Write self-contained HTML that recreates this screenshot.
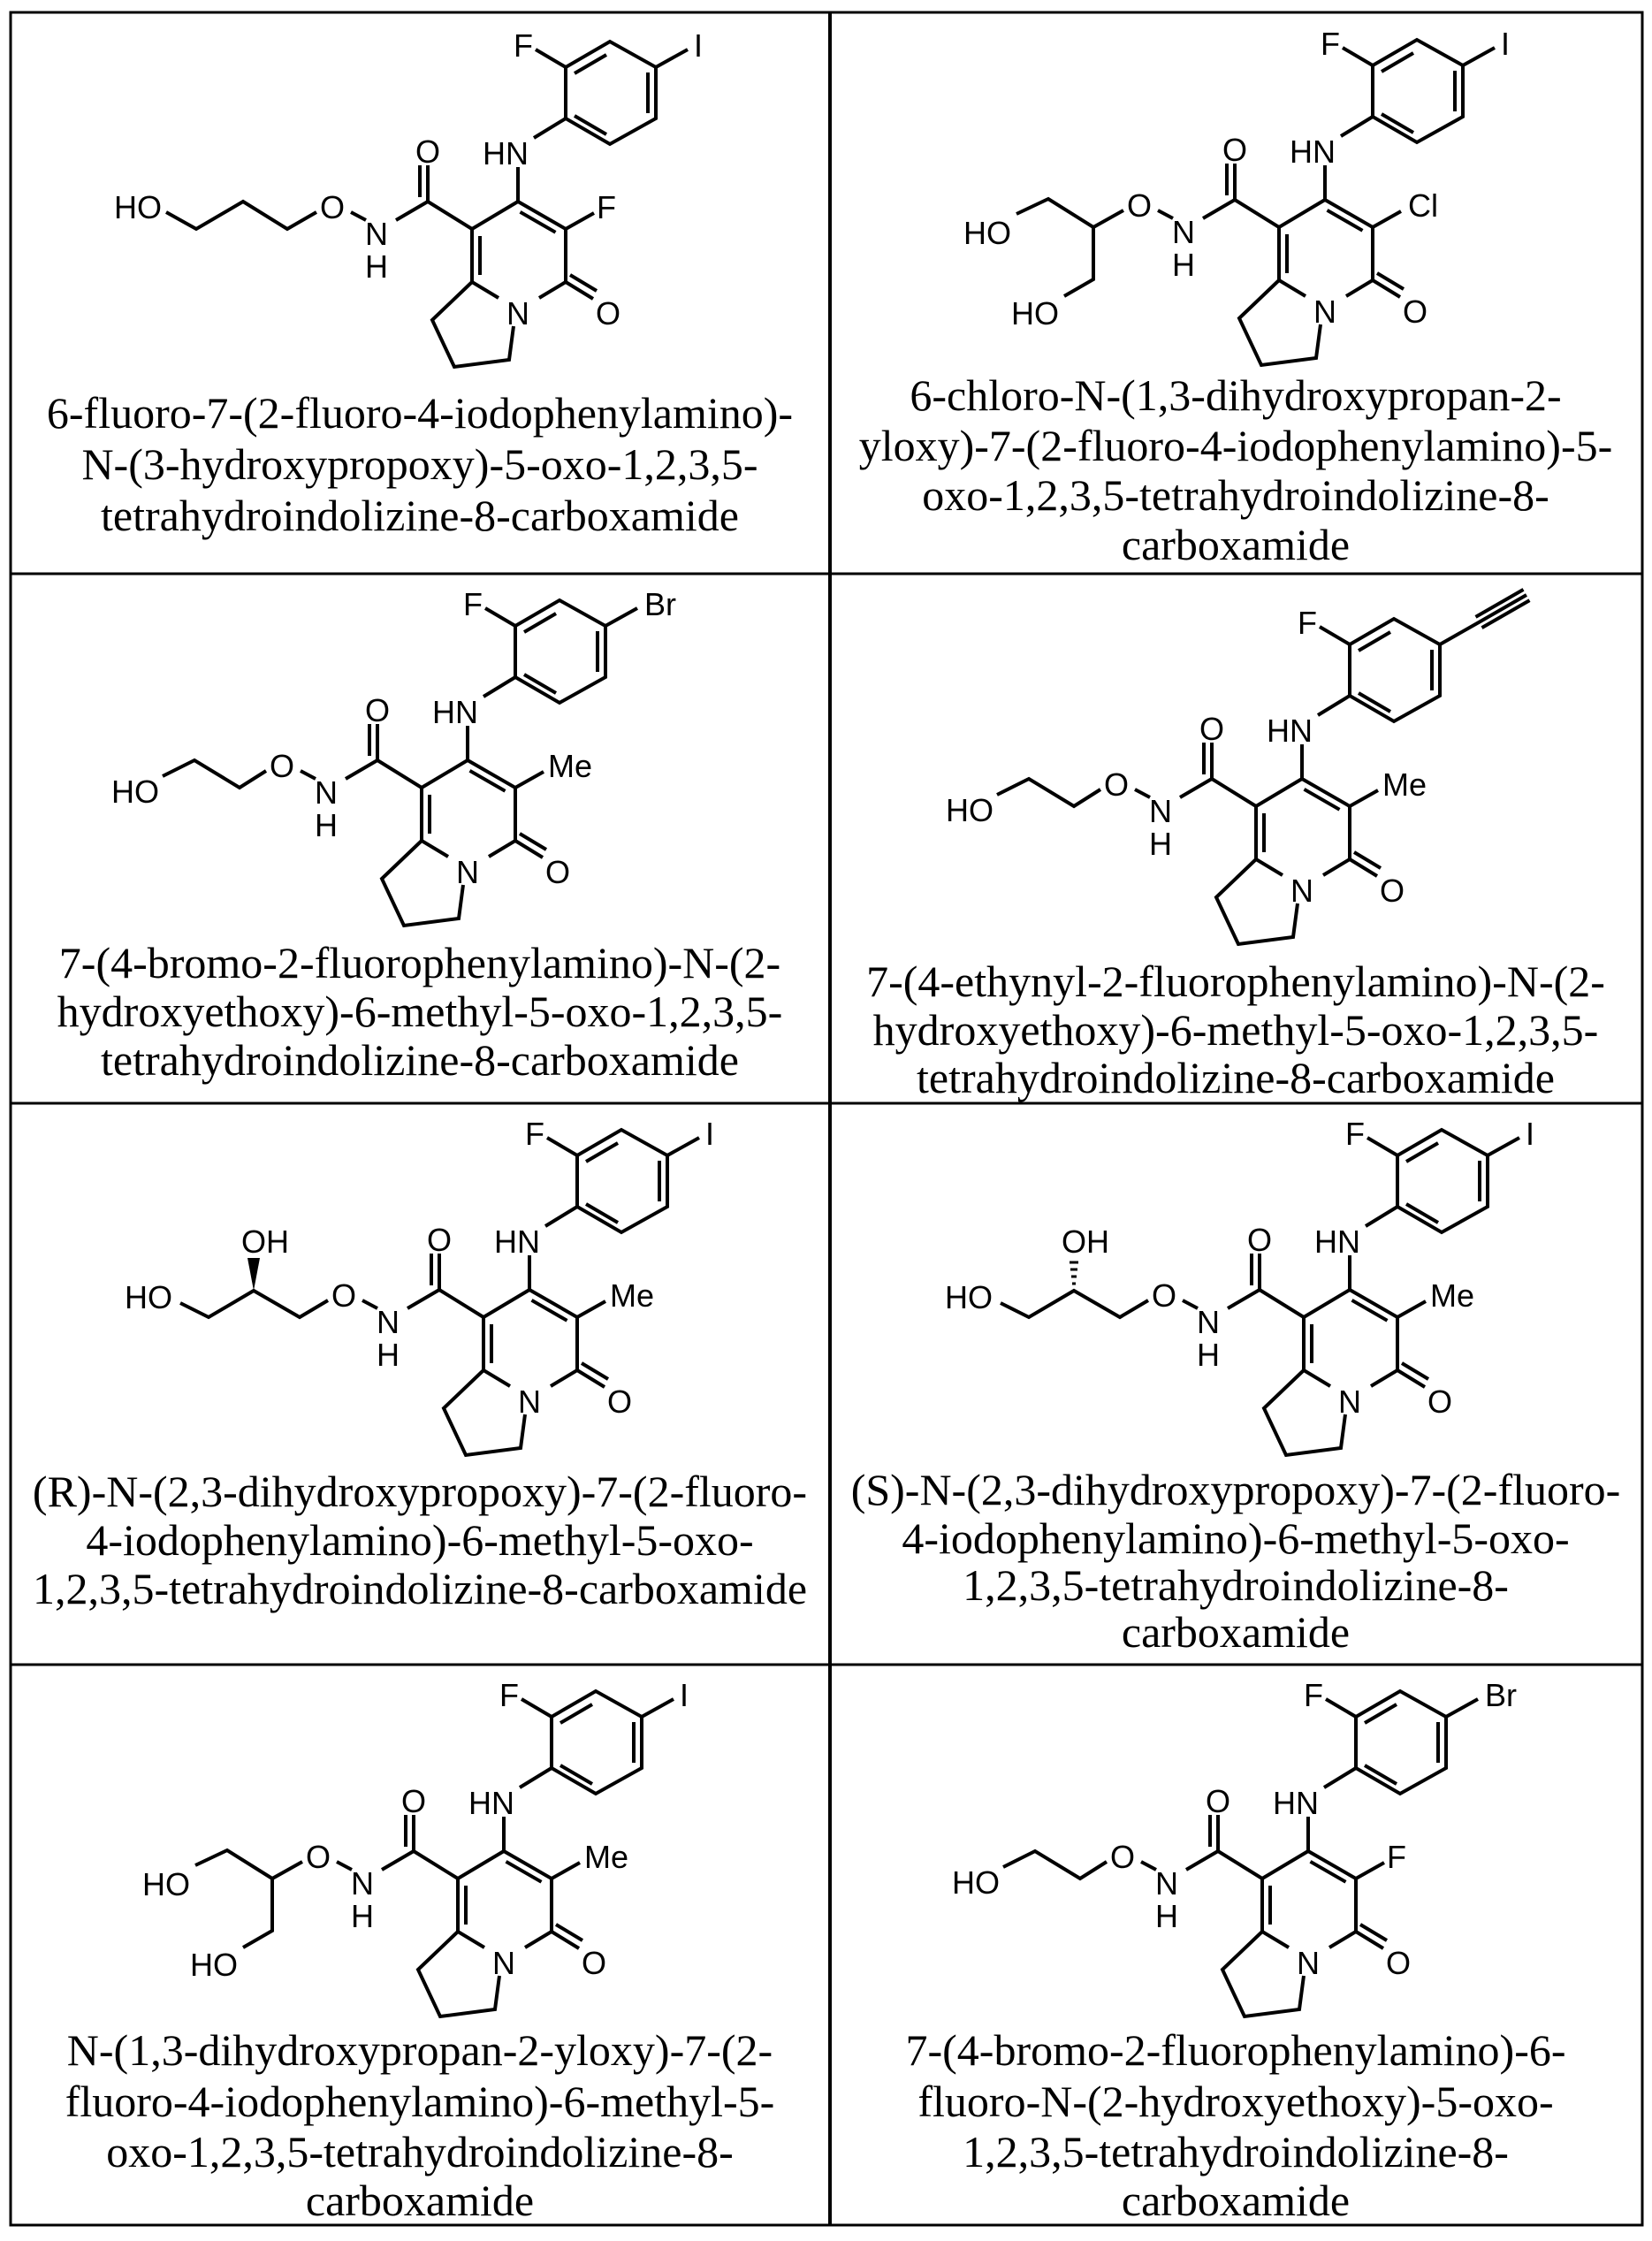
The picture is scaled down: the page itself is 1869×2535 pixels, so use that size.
<!DOCTYPE html>
<html><head><meta charset="utf-8"><style>
html,body{margin:0;padding:0;background:#fff;}
svg{display:block}
.b{fill:none;stroke:#000;stroke-width:4;stroke-linejoin:miter;stroke-linecap:butt}
.l{font-family:"Liberation Sans",Arial,sans-serif;font-size:36px;text-anchor:middle;fill:#000}
.n{font-family:"Liberation Serif","Times New Roman",serif;font-size:50px;text-anchor:middle;fill:#000}
</style></head><body>
<svg width="1869" height="2535" viewBox="0 0 1869 2535" xmlns="http://www.w3.org/2000/svg">
<rect x="0" y="0" width="1869" height="2535" fill="#fff"/>
<g stroke="#000" fill="none">
<rect x="12" y="14" width="1846" height="2503" stroke-width="3"/>
<line x1="939" y1="14" x2="939" y2="2517" stroke-width="4"/>
<line x1="12" y1="649" x2="1858" y2="649" stroke-width="3"/>
<line x1="12" y1="1248" x2="1858" y2="1248" stroke-width="3"/>
<line x1="12" y1="1883" x2="1858" y2="1883" stroke-width="3"/>
</g>

<!-- R1C1 -->
<g transform="translate(534,259)">
<path class="b" d="M0,0 L52,-31 L106,0 L106,60 L76,78 M30,78 L0,60 L0,0 M9,8 L9,52 M54.5,-19.2 L94.5,3.8 M106,60 L137,79 M111,52 L141,70 M47,110 L42,148 L-20,156 L-45,103 L0,60 M0,0 L-50,-31 L-86,-10 M-50,-31 L-50,-72 M-59,-36 L-59,-72 M-137,-19 L-120,-10 M52,-31 L52,-70 M70,-103 L106,-125 M106,-125 L106,-183 L156,-212 L208,-183 L208,-125 L156,-96 Z M116,-176 L152,-197 M199,-177 L199,-131 M152,-107 L116,-128 M106,-183 L72,-203 M106,0 L138,-18"/>
<text class="l" x="52" y="108">N</text><text class="l" x="154" y="108">O</text><text class="l" x="-50" y="-75">O</text><text class="l" x="-108" y="18">N</text><text class="l" x="-108" y="55">H</text><text class="l" x="38" y="-73">HN</text><text class="l" x="58" y="-195">F</text>
<path class="b" d="M208,-183 L244,-203"/><text class="l" x="256" y="-195">I</text>
<text class="l" x="152" y="-12">F</text>
<path class="b" d="M-176,-19 L-209,0 L-259,-31 L-312,0 L-346,-19"/>
<text class="l" x="-158" y="-12">O</text><text class="l" x="-378" y="-12">HO</text>
</g>
<text class="n" x="475" y="484">6-fluoro-7-(2-fluoro-4-iodophenylamino)-</text>
<text class="n" x="475" y="542">N-(3-hydroxypropoxy)-5-oxo-1,2,3,5-</text>
<text class="n" x="475" y="600">tetrahydroindolizine-8-carboxamide</text>

<!-- R1C2 -->
<g transform="translate(1447,257)">
<path class="b" d="M0,0 L52,-31 L106,0 L106,60 L76,78 M30,78 L0,60 L0,0 M9,8 L9,52 M54.5,-19.2 L94.5,3.8 M106,60 L137,79 M111,52 L141,70 M47,110 L42,148 L-20,156 L-45,103 L0,60 M0,0 L-50,-31 L-86,-10 M-50,-31 L-50,-72 M-59,-36 L-59,-72 M-137,-19 L-120,-10 M52,-31 L52,-70 M70,-103 L106,-125 M106,-125 L106,-183 L156,-212 L208,-183 L208,-125 L156,-96 Z M116,-176 L152,-197 M199,-177 L199,-131 M152,-107 L116,-128 M106,-183 L72,-203 M106,0 L138,-18"/>
<text class="l" x="52" y="108">N</text><text class="l" x="154" y="108">O</text><text class="l" x="-50" y="-75">O</text><text class="l" x="-108" y="18">N</text><text class="l" x="-108" y="55">H</text><text class="l" x="38" y="-73">HN</text><text class="l" x="58" y="-195">F</text>
<path class="b" d="M208,-183 L244,-203"/><text class="l" x="256" y="-195">I</text>
<text class="l" x="163" y="-12">Cl</text>
<path class="b" d="M-176,-19 L-210,0 L-261,-32 L-297,-15 M-210,0 L-210,59 L-243,78"/>
<text class="l" x="-158" y="-12">O</text><text class="l" x="-330" y="19">HO</text><text class="l" x="-276" y="110">HO</text>
</g>
<text class="n" x="1398" y="464">6-chloro-N-(1,3-dihydroxypropan-2-</text>
<text class="n" x="1398" y="521">yloxy)-7-(2-fluoro-4-iodophenylamino)-5-</text>
<text class="n" x="1398" y="577">oxo-1,2,3,5-tetrahydroindolizine-8-</text>
<text class="n" x="1398" y="633">carboxamide</text>

<!-- R2C1 -->
<g transform="translate(477,891)">
<path class="b" d="M0,0 L52,-31 L106,0 L106,60 L76,78 M30,78 L0,60 L0,0 M9,8 L9,52 M54.5,-19.2 L94.5,3.8 M106,60 L137,79 M111,52 L141,70 M47,110 L42,148 L-20,156 L-45,103 L0,60 M0,0 L-50,-31 L-86,-10 M-50,-31 L-50,-72 M-59,-36 L-59,-72 M-137,-19 L-120,-10 M52,-31 L52,-70 M70,-103 L106,-125 M106,-125 L106,-183 L156,-212 L208,-183 L208,-125 L156,-96 Z M116,-176 L152,-197 M199,-177 L199,-131 M152,-107 L116,-128 M106,-183 L72,-203 M106,0 L138,-18"/>
<text class="l" x="52" y="108">N</text><text class="l" x="154" y="108">O</text><text class="l" x="-50" y="-75">O</text><text class="l" x="-108" y="18">N</text><text class="l" x="-108" y="55">H</text><text class="l" x="38" y="-73">HN</text><text class="l" x="58" y="-195">F</text>
<path class="b" d="M208,-183 L244,-203"/><text class="l" x="270" y="-195">Br</text>
<text class="l" x="168" y="-12">Me</text>
<path class="b" d="M-176,-19 L-206,0 L-257,-31 L-293,-13"/>
<text class="l" x="-158" y="-12">O</text><text class="l" x="-324" y="17">HO</text>
</g>
<text class="n" x="475" y="1106">7-(4-bromo-2-fluorophenylamino)-N-(2-</text>
<text class="n" x="475" y="1161">hydroxyethoxy)-6-methyl-5-oxo-1,2,3,5-</text>
<text class="n" x="475" y="1216">tetrahydroindolizine-8-carboxamide</text>

<!-- R2C2 -->
<g transform="translate(1421,912)">
<path class="b" d="M0,0 L52,-31 L106,0 L106,60 L76,78 M30,78 L0,60 L0,0 M9,8 L9,52 M54.5,-19.2 L94.5,3.8 M106,60 L137,79 M111,52 L141,70 M47,110 L42,148 L-20,156 L-45,103 L0,60 M0,0 L-50,-31 L-86,-10 M-50,-31 L-50,-72 M-59,-36 L-59,-72 M-137,-19 L-120,-10 M52,-31 L52,-70 M70,-103 L106,-125 M106,-125 L106,-183 L156,-212 L208,-183 L208,-125 L156,-96 Z M116,-176 L152,-197 M199,-177 L199,-131 M152,-107 L116,-128 M106,-183 L72,-203 M106,0 L138,-18"/>
<text class="l" x="52" y="108">N</text><text class="l" x="154" y="108">O</text><text class="l" x="-50" y="-75">O</text><text class="l" x="-108" y="18">N</text><text class="l" x="-108" y="55">H</text><text class="l" x="38" y="-73">HN</text><text class="l" x="58" y="-195">F</text>
<path class="b" d="M208,-183 L252,-208 L306,-239 M255.5,-201.9 L309.5,-232.9 M248.5,-214.1 L302.5,-245.1"/>
<text class="l" x="168" y="-12">Me</text>
<path class="b" d="M-176,-19 L-206,0 L-257,-31 L-293,-13"/>
<text class="l" x="-158" y="-12">O</text><text class="l" x="-324" y="17">HO</text>
</g>
<text class="n" x="1398" y="1127">7-(4-ethynyl-2-fluorophenylamino)-N-(2-</text>
<text class="n" x="1398" y="1182">hydroxyethoxy)-6-methyl-5-oxo-1,2,3,5-</text>
<text class="n" x="1398" y="1236">tetrahydroindolizine-8-carboxamide</text>

<!-- R3C1 -->
<g transform="translate(547,1490)">
<path class="b" d="M0,0 L52,-31 L106,0 L106,60 L76,78 M30,78 L0,60 L0,0 M9,8 L9,52 M54.5,-19.2 L94.5,3.8 M106,60 L137,79 M111,52 L141,70 M47,110 L42,148 L-20,156 L-45,103 L0,60 M0,0 L-50,-31 L-86,-10 M-50,-31 L-50,-72 M-59,-36 L-59,-72 M-137,-19 L-120,-10 M52,-31 L52,-70 M70,-103 L106,-125 M106,-125 L106,-183 L156,-212 L208,-183 L208,-125 L156,-96 Z M116,-176 L152,-197 M199,-177 L199,-131 M152,-107 L116,-128 M106,-183 L72,-203 M106,0 L138,-18"/>
<text class="l" x="52" y="108">N</text><text class="l" x="154" y="108">O</text><text class="l" x="-50" y="-75">O</text><text class="l" x="-108" y="18">N</text><text class="l" x="-108" y="55">H</text><text class="l" x="38" y="-73">HN</text><text class="l" x="58" y="-195">F</text>
<path class="b" d="M208,-183 L244,-203"/><text class="l" x="256" y="-195">I</text>
<text class="l" x="168" y="-12">Me</text>
<path class="b" d="M-176,-19 L-208,0 L-260,-30 L-311,0 L-343,-16"/>
<polygon points="-260,-30 -267,-67 -253,-67" fill="#000"/>
<text class="l" x="-158" y="-12">O</text><text class="l" x="-379" y="-10">HO</text><text class="l" x="-247" y="-73">OH</text>
</g>
<text class="n" x="475" y="1704">(R)-N-(2,3-dihydroxypropoxy)-7-(2-fluoro-</text>
<text class="n" x="475" y="1759">4-iodophenylamino)-6-methyl-5-oxo-</text>
<text class="n" x="475" y="1814">1,2,3,5-tetrahydroindolizine-8-carboxamide</text>

<!-- R3C2 -->
<g transform="translate(1475,1490)">
<path class="b" d="M0,0 L52,-31 L106,0 L106,60 L76,78 M30,78 L0,60 L0,0 M9,8 L9,52 M54.5,-19.2 L94.5,3.8 M106,60 L137,79 M111,52 L141,70 M47,110 L42,148 L-20,156 L-45,103 L0,60 M0,0 L-50,-31 L-86,-10 M-50,-31 L-50,-72 M-59,-36 L-59,-72 M-137,-19 L-120,-10 M52,-31 L52,-70 M70,-103 L106,-125 M106,-125 L106,-183 L156,-212 L208,-183 L208,-125 L156,-96 Z M116,-176 L152,-197 M199,-177 L199,-131 M152,-107 L116,-128 M106,-183 L72,-203 M106,0 L138,-18"/>
<text class="l" x="52" y="108">N</text><text class="l" x="154" y="108">O</text><text class="l" x="-50" y="-75">O</text><text class="l" x="-108" y="18">N</text><text class="l" x="-108" y="55">H</text><text class="l" x="38" y="-73">HN</text><text class="l" x="58" y="-195">F</text>
<path class="b" d="M208,-183 L244,-203"/><text class="l" x="256" y="-195">I</text>
<text class="l" x="168" y="-12">Me</text>
<path class="b" d="M-176,-19 L-208,0 L-260,-30 L-311,0 L-343,-16"/>
<path stroke="#000" stroke-width="3" d="M-262,-38 L-258,-38 M-263,-46 L-257,-46 M-264,-54 L-256,-54 M-265,-62 L-255,-62"/>
<text class="l" x="-158" y="-12">O</text><text class="l" x="-379" y="-10">HO</text><text class="l" x="-247" y="-73">OH</text>
</g>
<text class="n" x="1398" y="1702">(S)-N-(2,3-dihydroxypropoxy)-7-(2-fluoro-</text>
<text class="n" x="1398" y="1757">4-iodophenylamino)-6-methyl-5-oxo-</text>
<text class="n" x="1398" y="1810">1,2,3,5-tetrahydroindolizine-8-</text>
<text class="n" x="1398" y="1863">carboxamide</text>

<!-- R4C1 -->
<g transform="translate(518,2125)">
<path class="b" d="M0,0 L52,-31 L106,0 L106,60 L76,78 M30,78 L0,60 L0,0 M9,8 L9,52 M54.5,-19.2 L94.5,3.8 M106,60 L137,79 M111,52 L141,70 M47,110 L42,148 L-20,156 L-45,103 L0,60 M0,0 L-50,-31 L-86,-10 M-50,-31 L-50,-72 M-59,-36 L-59,-72 M-137,-19 L-120,-10 M52,-31 L52,-70 M70,-103 L106,-125 M106,-125 L106,-183 L156,-212 L208,-183 L208,-125 L156,-96 Z M116,-176 L152,-197 M199,-177 L199,-131 M152,-107 L116,-128 M106,-183 L72,-203 M106,0 L138,-18"/>
<text class="l" x="52" y="108">N</text><text class="l" x="154" y="108">O</text><text class="l" x="-50" y="-75">O</text><text class="l" x="-108" y="18">N</text><text class="l" x="-108" y="55">H</text><text class="l" x="38" y="-73">HN</text><text class="l" x="58" y="-195">F</text>
<path class="b" d="M208,-183 L244,-203"/><text class="l" x="256" y="-195">I</text>
<text class="l" x="168" y="-12">Me</text>
<path class="b" d="M-176,-19 L-210,0 L-261,-32 L-297,-15 M-210,0 L-210,59 L-243,78"/>
<text class="l" x="-158" y="-12">O</text><text class="l" x="-330" y="19">HO</text><text class="l" x="-276" y="110">HO</text>
</g>
<text class="n" x="475" y="2336">N-(1,3-dihydroxypropan-2-yloxy)-7-(2-</text>
<text class="n" x="475" y="2394">fluoro-4-iodophenylamino)-6-methyl-5-</text>
<text class="n" x="475" y="2451">oxo-1,2,3,5-tetrahydroindolizine-8-</text>
<text class="n" x="475" y="2506">carboxamide</text>

<!-- R4C2 -->
<g transform="translate(1428,2125)">
<path class="b" d="M0,0 L52,-31 L106,0 L106,60 L76,78 M30,78 L0,60 L0,0 M9,8 L9,52 M54.5,-19.2 L94.5,3.8 M106,60 L137,79 M111,52 L141,70 M47,110 L42,148 L-20,156 L-45,103 L0,60 M0,0 L-50,-31 L-86,-10 M-50,-31 L-50,-72 M-59,-36 L-59,-72 M-137,-19 L-120,-10 M52,-31 L52,-70 M70,-103 L106,-125 M106,-125 L106,-183 L156,-212 L208,-183 L208,-125 L156,-96 Z M116,-176 L152,-197 M199,-177 L199,-131 M152,-107 L116,-128 M106,-183 L72,-203 M106,0 L138,-18"/>
<text class="l" x="52" y="108">N</text><text class="l" x="154" y="108">O</text><text class="l" x="-50" y="-75">O</text><text class="l" x="-108" y="18">N</text><text class="l" x="-108" y="55">H</text><text class="l" x="38" y="-73">HN</text><text class="l" x="58" y="-195">F</text>
<path class="b" d="M208,-183 L244,-203"/><text class="l" x="270" y="-195">Br</text>
<text class="l" x="152" y="-12">F</text>
<path class="b" d="M-176,-19 L-206,0 L-257,-31 L-293,-13"/>
<text class="l" x="-158" y="-12">O</text><text class="l" x="-324" y="17">HO</text>
</g>
<text class="n" x="1398" y="2336">7-(4-bromo-2-fluorophenylamino)-6-</text>
<text class="n" x="1398" y="2394">fluoro-N-(2-hydroxyethoxy)-5-oxo-</text>
<text class="n" x="1398" y="2451">1,2,3,5-tetrahydroindolizine-8-</text>
<text class="n" x="1398" y="2506">carboxamide</text>
</svg>
</body></html>
